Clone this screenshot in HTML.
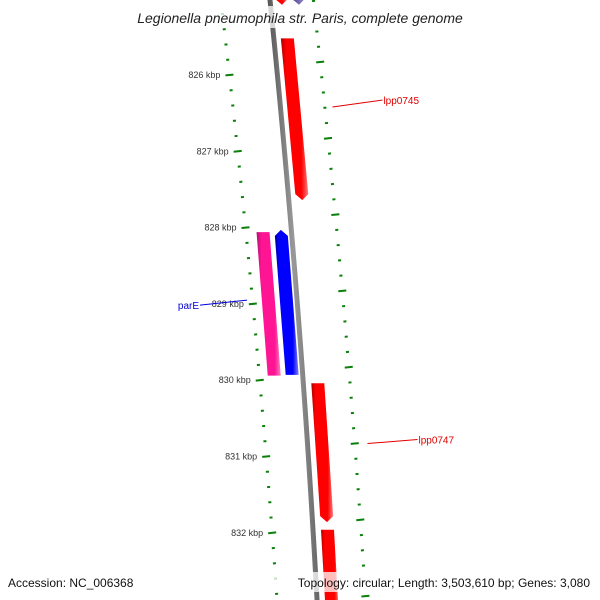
<!DOCTYPE html>
<html><head><meta charset="utf-8"><style>
html,body{margin:0;padding:0;background:#fff;}
svg{display:block;font-family:"Liberation Sans","DejaVu Sans",sans-serif;}
</style></head><body>
<svg id="chart" width="600" height="600" viewBox="0 0 600 600" xmlns="http://www.w3.org/2000/svg">
<defs>
<linearGradient id="gRed" x1="0" x2="1" y1="0" y2="0"><stop offset="0" stop-color="#b00000"/><stop offset="0.2" stop-color="#ff0000"/><stop offset="0.75" stop-color="#ff0000"/><stop offset="1" stop-color="#ff8080"/></linearGradient>
<linearGradient id="gPink" x1="0" x2="1" y1="0" y2="0"><stop offset="0" stop-color="#b01070"/><stop offset="0.2" stop-color="#ff1493"/><stop offset="0.75" stop-color="#ff1493"/><stop offset="1" stop-color="#ff80c0"/></linearGradient>
<linearGradient id="gBlue" x1="0" x2="1" y1="0" y2="0"><stop offset="0" stop-color="#0000a0"/><stop offset="0.2" stop-color="#0000ff"/><stop offset="0.75" stop-color="#0000ff"/><stop offset="1" stop-color="#8080ff"/></linearGradient>
<linearGradient id="gPurple" x1="0" x2="1" y1="0" y2="0"><stop offset="0" stop-color="#2a2060"/><stop offset="0.3" stop-color="#483d8b"/><stop offset="1" stop-color="#9088c8"/></linearGradient>
<linearGradient id="gBack" x1="0" x2="1" y1="0" y2="0"><stop offset="0" stop-color="#555"/><stop offset="0.5" stop-color="#999"/><stop offset="1" stop-color="#666"/></linearGradient>
</defs>
<g id="rulers"></g>
<g id="backbone"></g>
<g id="genes"></g>
<g id="labels"></g>
<rect x="115" y="6" width="370" height="22" fill="#fff" opacity="0.75"/>
<text x="300" y="23" text-anchor="middle" font-size="14" font-style="italic" fill="#222">Legionella pneumophila str. Paris, complete genome</text>
<rect x="255" y="572" width="340" height="20" fill="#fff" opacity="0.75"/>
<text x="8" y="587" font-size="12" fill="#111">Accession: NC_006368</text>
<text x="590" y="587" text-anchor="end" font-size="12" fill="#111">Topology: circular; Length: 3,503,610 bp; Genes: 3,080</text>
</svg>
<script>
const tickKbp = [825.2,825.4,825.6,825.8,826,826.2,826.4,826.6,826.8,827,827.2,827.4,827.6,827.8,828,828.2,828.4,828.6,828.8,829,829.2,829.4,829.6,829.8,830,830.2,830.4,830.6,830.8,831,831.2,831.4,831.6,831.8,832,832.2,832.4,832.6,832.8,833];
const majorLabels = ["826 kbp","827 kbp","828 kbp","829 kbp","830 kbp","831 kbp","832 kbp"];
const majorKbp = [826,827,828,829,830,831,832];
const geneNames = ["prev-gene","prev-gene-2","lpp0745","parE-partner","parE","lpp0747","next-gene"];
const geneStart = [824.0,824.0,825.52,828.03,828.06,830.04,831.96];
const geneEnd = [825.08,825.08,827.64,829.93,829.94,831.86,833.2];
const geneStrand = [1,1,1,-1,0,1,1];
const geneLane = [5,22,7,-17,-35,8,8];
const geneFill = ["url(#gRed)","url(#gPurple)","url(#gRed)","url(#gBlue)","url(#gPink)","url(#gRed)","url(#gRed)"];
const calloutNames = ["lpp0745","lpp0747","parE"];
const calloutKbp = [826.42,830.83,828.95];
const calloutColor = ["#e00000","#e00000","#0000dd"];

const NS="http://www.w3.org/2000/svg";
function yOf(p){return 75+(p-826)*76.3;}
function xb(y){return 270+0.1018*y-0.000039*y*y;}
function mk(tag,attrs,parent){const e=document.createElementNS(NS,tag);for(const k in attrs)e.setAttribute(k,attrs[k]);parent.appendChild(e);return e;}

const back=document.getElementById('backbone');
let pts=[];
for(let y=-5;y<=605;y+=5)pts.push((xb(y)-2.5)+','+y);
for(let y=605;y>=-5;y-=5)pts.push((xb(y)+2.5)+','+y);
const bb=mk('polygon',{points:pts.join(' '),fill:'url(#gBack)'},back);



const rul=document.getElementById('rulers');
tickKbp.forEach(p=>{
  const major=Math.abs(p-Math.round(p))<1e-6;
  const len=major?8:3;
  const yl=yOf(p);
  const xl=xb(yl)-48+7*(yl-75)/458;
  const t1=mk('line',{x1:xl-len/2,y1:yl+len*0.05,x2:xl+len/2,y2:yl-len*0.05,stroke:'#0a800a','stroke-width':2},rul);
  
  
  const yr=yl-13;
  const xr=xb(yr)+44+4*(yr-62)/466;
  const t2=mk('line',{x1:xr-len/2,y1:yr+len*0.05,x2:xr+len/2,y2:yr-len*0.05,stroke:'#0a800a','stroke-width':2},rul);
  
  
});
majorKbp.forEach((p,i)=>{
  const y=yOf(p);
  const x=xb(y)-48+7*(y-75)/458;
  const t=mk('text',{x:x-9,y:y+3,'text-anchor':'end','font-size':9,fill:'#333'},rul);
  t.textContent=majorLabels[i];
  
  
});

const gg=document.getElementById('genes');
geneStart.forEach((s,i)=>{
  const w=13, off=geneLane[i];
  let y1=yOf(s), y2=yOf(geneEnd[i]);
  const st=geneStrand[i];
  const L=y=>xb(y)+off, R=y=>xb(y)+off+w;
  let p=[];
  if(st===1){
    const ya=y2-6;
    p=[[L(y1),y1],[R(y1),y1],[R(ya),ya],[(L(y2)+R(y2))/2,y2],[L(ya),ya]];
  }else if(st===-1){
    const ya=y1+6;
    p=[[(L(y1)+R(y1))/2,y1],[R(ya),ya],[R(y2),y2],[L(y2),y2],[L(ya),ya]];
  }else{
    p=[[L(y1),y1],[R(y1),y1],[R(y2),y2],[L(y2),y2]];
  }
  const g=mk('polygon',{points:p.map(q=>q.join(',')).join(' '),fill:geneFill[i]},gg);
  
  
});

const lab=document.getElementById('labels');
calloutNames.forEach((n,i)=>{
  const y=yOf(calloutKbp[i]);
  let x1,y1,x2,y2,tx,anchor;
  if(i<2){x1=xb(y)+52+i*8;y1=y;x2=x1+50;y2=y-7+i*3;tx=x2+1;anchor='start';}
  else{x1=xb(y)-50;y1=y;x2=x1-47;y2=y+5;tx=x2-1;anchor='end';}
  const l=mk('line',{x1,y1,x2,y2,stroke:calloutColor[i],'stroke-width':1},lab);
  
  
  const t=mk('text',{x:tx,y:y2+4,'text-anchor':anchor,'font-size':10,fill:calloutColor[i]},lab);
  t.textContent=n;
  
  
});
</script>
</body></html>
